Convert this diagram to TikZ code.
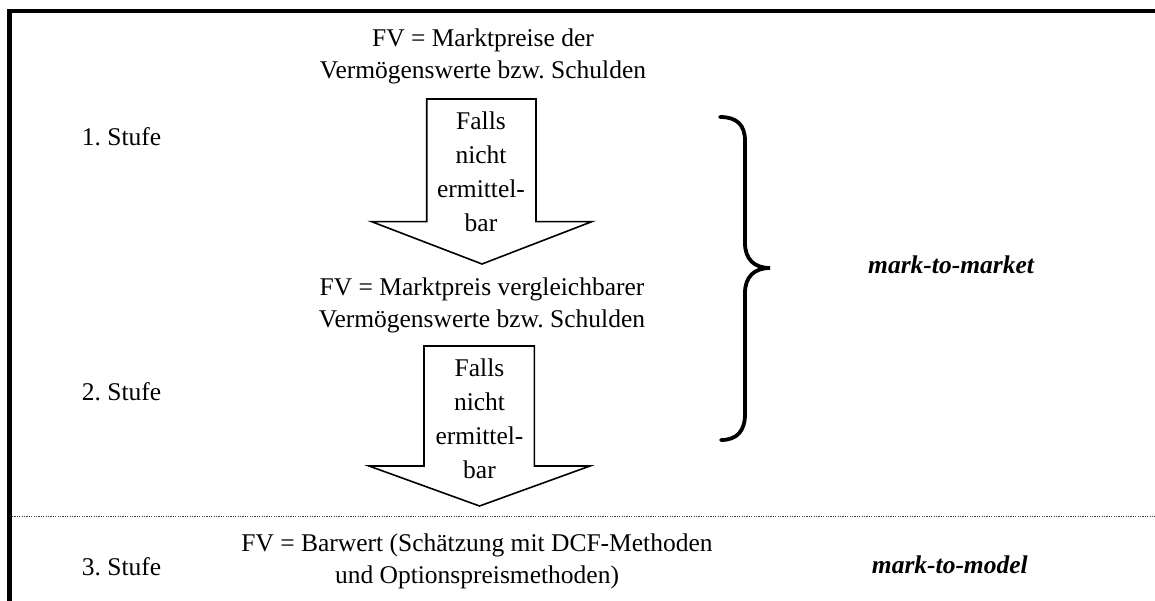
\documentclass[tikz,border=0pt]{standalone}
\usepackage{fontspec}
\setmainfont{Liberation Serif}
\frenchspacing
\begin{document}
\begin{tikzpicture}[x=1pt,y=-1pt,
  txt/.style={inner sep=0pt,anchor=base,font=\fontsize{25.5}{32}\selectfont},
  arrtxt/.style={inner sep=0pt,anchor=base,font=\fontsize{25.5}{34}\selectfont},
  lvl/.style={inner sep=0pt,anchor=base west,font=\fontsize{25.5}{32}\selectfont},
  method/.style={inner sep=0pt,anchor=base west,font=\fontsize{25.5}{32}\selectfont\bfseries\itshape},
  bigarrow/.style={draw=black,line width=1.6pt,fill=white,line join=miter},
  frame/.style={line width=4.5pt,line join=miter},
  brace/.style={line width=3.8pt,line cap=round}
]
\useasboundingbox (0,0) rectangle (1155,601);

% frame on the left and top
\draw[frame] (9.7,601) -- (9.7,11.2) -- (1157,11.2);
% separation between mark-to-market and mark-to-model
\draw[black!75,line width=0.8pt,dash pattern=on 1.2pt off 1.2pt] (12,516) -- (1155,516);

% first arrow
\draw[bigarrow] (426.7,99) -- (536,99) -- (536,221.7) -- (591.7,221.7)
  -- (482,264) -- (371.7,221.7) -- (426.7,221.7) -- cycle;
% second arrow
\draw[bigarrow] (424,346) -- (534.3,346) -- (534.3,466) -- (590,466)
  -- (479.5,506) -- (369,466) -- (424,466) -- cycle;

% curly brace
\draw[brace] (720,117) .. controls (737,117) and (745,125) .. (745,141)
  -- (745,243) .. controls (745,259) and (754,268) .. (770,268)
  .. controls (754,268) and (745,277) .. (745,293)
  -- (745,414) .. controls (745,431) and (737,440) .. (721,440);

% value descriptions
\node[txt] (fv1) at (483,46.7) {\begin{tabular}[t]{@{}c@{}}FV = Marktpreise der\\Vermögenswerte bzw. Schulden\end{tabular}};
\node[arrtxt] (a1) at (481,130) {\begin{tabular}[t]{@{}c@{}}Falls\\nicht\\ermittel-\\bar\end{tabular}};
\node[txt] (fv2) at (482,295) {\begin{tabular}[t]{@{}c@{}}FV = Marktpreis vergleichbarer\\Vermögenswerte bzw. Schulden\end{tabular}};
\node[arrtxt] (a2) at (479.5,376) {\begin{tabular}[t]{@{}c@{}}Falls\\nicht\\ermittel-\\bar\end{tabular}};
\node[txt] (fv3) at (477,551.7) {\begin{tabular}[t]{@{}c@{}}FV = Barwert (Schätzung mit DCF-Methoden\\und Optionspreismethoden)\end{tabular}};

% levels
\node[lvl] (s1) at (81.7,146) {1. Stufe};
\node[lvl] (s2) at (81.7,400) {2. Stufe};
\node[lvl] (s3) at (81.7,575) {3. Stufe};

% methods
\node[method] (mm) at (868,274) {mark-to-market};
\node[method] (md) at (871.7,573) {mark-to-model};
\end{tikzpicture}
\end{document}
